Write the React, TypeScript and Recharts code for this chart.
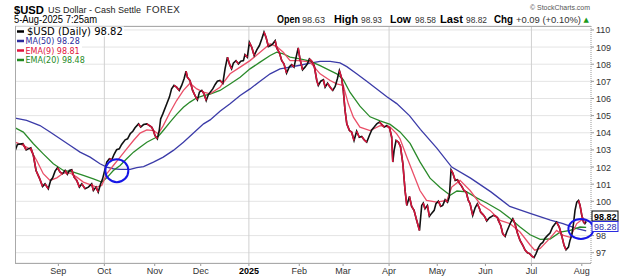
import React from 'react';
import { LineChart, Line, XAxis, YAxis, CartesianGrid, ReferenceLine, ReferenceDot } from 'recharts';

// x = trading-session index (0 = 2 Sep 2024), y = price
const monthTicks = [0, 21, 44, 65, 87, 110, 130, 151, 173, 195, 216, 239];
const monthLabels = ['Sep', 'Oct', 'Nov', 'Dec', '2025', 'Feb', 'Mar', 'Apr', 'May', 'Jun', 'Jul', 'Aug'];
const quarterTicks = [21, 87, 151, 216];
const priceTicks = [97, 98, 99, 100, 101, 102, 103, 104, 105, 106, 107, 108, 109, 110];

const usdPoints = [
  [-19.7,102.97],[-18.7,103.32],[-16.2,103.36],[-14.7,103.0],[-13.7,103.06],[-12.6,103.12],[-11.4,102.67],[-10.2,101.8],[-8.7,101.37],[-7.2,100.87],
  [-6.1,101.02],[-4.6,100.73],[-3.5,101.22],[-2.6,101.37],[-1.5,101.76],[-0.4,101.96],[0.8,101.7],[1.9,101.61],[3.1,101.8],[4.1,101.57],
  [5.0,101.8],[6.1,101.84],[7.2,101.41],[8.4,101.22],[9.6,100.83],[10.7,101.02],[12.2,100.73],[13.7,100.83],[15.2,101.02],[16.0,100.63],
  [17.2,100.83],[18.2,100.54],[19.3,101.02],[20.2,101.31],[22.1,102.29],[23.3,102.48],[24.4,102.42],[25.4,102.73],[26.6,103.01],[27.8,103.06],
  [28.9,103.32],[30.5,103.59],[31.6,103.65],[32.8,103.94],[34.0,104.09],[35.0,104.29],[36.6,104.52],[37.6,104.33],[38.9,104.48],[40.4,104.52],
  [41.6,104.42],[42.6,104.33],[43.4,104.13],[44.1,103.84],[45.2,103.65],[46.1,104.17],[46.7,104.81],[47.7,105.1],[49.5,105.69],[50.7,106.08],
  [51.7,106.56],[52.8,106.76],[54.0,106.66],[55.2,106.47],[56.3,106.76],[57.4,107.15],[58.3,107.59],[58.9,107.24],[60.1,107.05],[61.3,106.47],
  [62.4,106.17],[63.5,105.92],[64.4,106.37],[65.5,106.47],[66.5,106.27],[67.5,105.88],[68.5,106.23],[70.5,106.56],[71.6,106.82],[72.6,107.01],
  [73.8,107.05],[75.1,106.89],[76.1,107.73],[77.2,108.41],[78.1,108.02],[79.1,107.73],[79.9,108.06],[81.1,108.21],[82.2,108.02],[83.3,108.18],
  [84.5,108.21],[85.2,108.56],[86.3,108.41],[87.2,109.28],[88.3,108.99],[89.4,108.51],[90.6,108.84],[91.8,109.09],[92.9,109.48],[93.9,109.87],
  [94.8,109.58],[95.9,109.03],[96.9,109.09],[97.9,109.19],[99.0,109.38],[99.7,108.95],[101.0,108.64],[102.0,108.21],[103.0,108.02],[104.2,107.48],
  [105.5,107.86],[106.5,107.98],[107.6,107.83],[108.5,108.37],[109.5,108.95],[110.3,108.31],[111.5,107.67],[112.6,107.83],[113.7,108.02],[114.6,108.31],
  [115.7,108.18],[116.8,107.92],[118.0,107.05],[118.7,106.76],[119.8,107.01],[121.0,107.09],[121.8,106.66],[122.9,106.89],[124.1,106.66],[125.3,106.47],
  [126.4,106.7],[127.4,107.15],[128.3,107.63],[129.4,107.15],[130.1,106.47],[130.9,105.3],[131.7,104.52],[132.9,104.13],[133.9,104.04],[135.0,103.55],
  [136.2,104.09],[137.4,103.74],[138.5,103.78],[139.6,103.59],[140.8,103.45],[142.0,103.84],[143.1,104.17],[144.2,104.33],[145.4,104.52],[146.6,104.62],
  [147.7,104.48],[148.8,104.33],[150.0,104.42],[151.2,104.29],[152.2,103.74],[152.7,102.29],[153.3,102.97],[154.2,103.55],[155.3,103.45],[156.2,103.2],
  [157.3,102.19],[158.3,100.63],[159.1,99.76],[160.3,100.28],[161.3,99.7],[162.4,99.47],[163.6,98.89],[164.9,98.3],[165.9,99.76],[166.6,99.9],
  [167.4,99.57],[168.5,99.76],[169.4,99.12],[170.5,99.31],[171.6,99.47],[172.4,99.86],[173.5,100.01],[174.6,99.7],[175.5,99.76],[176.6,100.09],
  [177.7,99.95],[178.5,100.25],[179.3,101.84],[180.1,101.65],[181.2,101.22],[182.2,101.26],[183.1,101.06],[184.2,100.87],[185.2,100.63],[186.2,100.54],
  [187.2,100.05],[188.0,99.86],[189.2,99.18],[190.3,99.62],[191.3,99.86],[192.3,99.57],[192.8,99.37],[193.8,99.24],[194.8,99.08],[195.6,98.85],
  [196.8,99.04],[197.4,99.08],[198.6,99.18],[199.8,99.12],[200.5,99.04],[200.9,98.89],[202.0,98.59],[202.9,98.11],[204.0,97.95],[204.7,98.21],
  [205.5,98.46],[206.6,98.79],[207.5,98.98],[208.5,98.69],[209.6,98.15],[210.8,97.72],[212.0,97.45],[213.1,97.15],[214.2,97.0],[215.1,96.95],
  [216.2,96.8],[217.2,96.72],[218.1,96.95],[219.2,97.3],[220.2,97.5],[221.2,97.6],[222.2,97.85],[223.3,98.0],[224.5,98.15],[225.7,98.5],
  [226.8,98.69],[227.5,98.79],[228.7,98.5],[229.8,98.01],[230.9,97.43],[231.8,97.17],[232.9,97.33],[233.6,97.72],[234.4,98.01],[235.2,98.69],
  [235.9,99.47],[236.7,99.95],[237.5,100.05],[238.2,99.76],[239.0,99.18],[239.8,98.79],[240.4,98.7],[241.0,98.82],
];

const ma50Points = [
  [-19.7,104.85],[-14.5,104.72],[-8.4,104.42],[-3.8,104.04],[0.8,103.65],[5.4,103.26],[9.9,102.87],[14.5,102.58],[19.0,102.19],[22.1,102.0],
  [25.1,101.9],[28.2,101.86],[32.8,101.86],[35.8,101.96],[38.9,102.03],[43.4,102.29],[47.9,102.58],[52.5,102.97],[57.1,103.45],[61.7,103.98],
  [66.3,104.52],[69.3,104.75],[73.8,105.26],[78.4,105.69],[83.0,106.17],[87.5,106.56],[92.1,107.01],[96.7,107.44],[101.2,107.73],[105.8,107.83],
  [110.3,107.94],[114.9,108.06],[119.5,108.16],[124.1,108.16],[128.6,108.08],[131.7,107.86],[136.2,107.44],[140.8,107.0],[145.4,106.55],[150.0,106.1],
  [154.5,105.7],[160.3,105.0],[165.3,104.2],[172.8,103.1],[179.6,102.0],[188.2,101.35],[197.5,100.55],[206.1,99.7],[215.4,99.3],[224.7,98.9],
  [230.4,98.7],[236.8,98.4],[241.0,98.28],
];

const ema9Points = [
  [-19.7,103.45],[-16.0,103.26],[-13.0,103.06],[-9.9,102.38],[-6.9,101.61],[-3.8,101.22],[-0.7,101.37],[2.3,101.65],[5.4,101.65],[8.4,101.41],
  [11.4,101.12],[14.5,100.98],[17.5,100.83],[19.8,100.93],[22.1,101.61],[25.1,102.09],[28.2,102.58],[31.2,103.06],[34.3,103.55],[37.3,103.98],
  [40.4,104.17],[43.4,104.13],[45.6,103.94],[47.9,104.42],[51.0,105.2],[54.0,105.88],[57.1,106.47],[60.1,106.89],[63.2,106.56],[66.3,106.37],
  [69.3,106.27],[73.8,106.66],[78.4,107.44],[83.0,107.83],[87.5,108.21],[92.1,108.7],[96.7,109.19],[99.7,109.03],[102.7,108.7],[105.8,108.21],
  [110.3,108.21],[114.9,108.12],[119.5,107.44],[124.1,107.05],[127.1,106.85],[130.1,106.76],[132.4,105.69],[134.7,104.91],[137.7,104.33],[142.3,104.13],
  [146.9,104.42],[151.5,104.33],[154.5,103.94],[156.0,103.65],[159.1,102.58],[162.1,101.61],[165.1,100.63],[168.1,100.05],[172.8,99.95],[177.4,100.05],
  [179.6,100.83],[183.4,101.22],[188.0,100.63],[192.5,99.86],[197.1,99.47],[201.7,98.89],[206.3,98.69],[210.8,98.21],[215.4,97.45],[217.5,97.15],
  [220.0,97.25],[224.5,97.85],[227.5,98.3],[230.6,98.01],[233.7,97.9],[236.7,98.7],[239.8,99.0],[241.0,98.81],
];

const ema20Points = [
  [-19.7,104.29],[-16.0,104.04],[-11.4,103.36],[-6.9,102.77],[-2.3,102.19],[2.3,101.8],[6.9,101.7],[11.4,101.51],[16.0,101.31],[19.8,101.12],
  [22.1,101.37],[25.1,101.8],[28.2,102.09],[31.2,102.48],[34.3,102.87],[37.3,103.16],[40.4,103.45],[43.4,103.65],[45.6,103.78],[47.9,104.13],
  [51.0,104.62],[54.0,105.07],[57.1,105.49],[60.1,105.79],[63.2,106.04],[66.3,106.17],[69.3,106.25],[73.8,106.47],[78.4,106.85],[83.0,107.24],
  [87.5,107.73],[92.1,108.12],[96.7,108.51],[99.7,108.7],[102.7,108.6],[105.8,108.41],[110.3,108.31],[114.9,108.18],[119.5,107.92],[124.1,107.63],
  [127.1,107.44],[130.1,107.1],[133.2,106.35],[137.7,105.55],[142.3,104.93],[146.9,104.69],[151.5,104.49],[156.0,104.05],[160.6,103.38],[165.1,102.3],
  [169.7,101.35],[174.3,100.8],[178.9,100.35],[182.0,100.6],[186.5,100.55],[191.0,100.2],[195.6,99.9],[201.7,99.45],[206.3,99.0],[210.8,98.5],
  [215.4,98.05],[220.0,97.78],[224.5,97.8],[229.1,98.2],[233.7,98.3],[238.2,98.5],[241.0,98.48],
];

// annotation circles [session, price]
const circleMarks = [[26.7, 101.79], [238.6, 98.39]];

const legendItems = ['$USD (Daily) 98.82', 'MA(50) 98.28', 'EMA(9) 98.81', 'EMA(20) 98.48'];
const headerStats = [
  ['Open', '98.63'], ['High', '98.93'], ['Low', '98.58'], ['Last', '98.82'], ['Chg', '+0.09 (+0.10%)'],
];

const W = 624;
const H = 278;
const FONT = '"Liberation Sans", Arial, sans-serif';
const VFONT = '"DejaVu Sans", Verdana, sans-serif';

const toRows = (pts: number[][]) => pts.map(([s, v]) => ({ s, v }));

function buildPriceRows() {
  const rows: any[] = usdPoints.map(([s, v]) => ({ s, v, r0: null, r1: null, r2: null }));
  for (let i = 0; i < usdPoints.length - 1; i++) {
    if (usdPoints[i + 1][1] < usdPoints[i][1]) {
      const k = 'r' + (i % 3);
      rows[i][k] = usdPoints[i][1];
      rows[i + 1][k] = usdPoints[i + 1][1];
    }
  }
  return rows;
}

const MonthTick = (props: any) => {
  const { x, payload } = props;
  const idx = monthTicks.indexOf(payload.value);
  const label = monthLabels[idx];
  const bold = label === '2025';
  return (
    <text x={x} y={274} textAnchor="middle" fontSize={9} fontWeight={bold ? 700 : 400} fill={bold ? '#000' : '#333'} fontFamily={FONT}>
      {label}
    </text>
  );
};

const PriceTick = (props: any) => {
  const { y, payload } = props;
  return (
    <text x={596} y={y + 3.5} fontSize={9} fill="#333" fontFamily={FONT}>
      {payload.value}
    </text>
  );
};

const statX = [[277, 23, 302, 23], [334, 24, 361, 21], [390, 21, 415, 21], [440, 23, 466, 21], [494, 19, 516, 65]];

export default function App() {
  const priceRows = buildPriceRows();
  const ma50Rows = toRows(ma50Points);
  const ema9Rows = toRows(ema9Points);
  const ema20Rows = toRows(ema20Points);
  const legendColors = ['#000000', '#2b2b9c', '#e0143c', '#1f8a1f'];
  const legendY = [31.5, 41, 50.5, 60];

  return (
    <div style={{ position: 'absolute', left: 0, top: 0, width: W, height: H, background: '#fff', fontFamily: FONT }}>
      <LineChart width={W} height={H} margin={{ top: 26, right: 0, bottom: 0, left: 15 }}>
        <CartesianGrid vertical={false} stroke="#e4e4e4" />
        <XAxis
          dataKey="s"
          type="number"
          domain={[-19.8, 243.2]}
          allowDataOverflow
          ticks={monthTicks}
          interval={0}
          height={15}
          axisLine={false}
          tickSize={3}
          tickLine={{ stroke: '#999' }}
          tick={MonthTick}
        />
        <YAxis
          type="number"
          orientation="right"
          domain={[96.4, 110.23]}
          allowDataOverflow
          ticks={priceTicks}
          interval={0}
          width={33}
          tickSize={3}
          axisLine={{ stroke: '#999', strokeDasharray: '1 1' }}
          tickLine={{ stroke: '#999' }}
          tick={PriceTick}
        />
        {quarterTicks.map((q) => (
          <ReferenceLine key={q} x={q} stroke="#d0d0d0" strokeWidth={1} />
        ))}
        <Line data={ma50Rows} dataKey="v" type="linear" stroke="#3b3ba8" strokeWidth={1.3} dot={false} isAnimationActive={false} />
        <Line data={ema20Rows} dataKey="v" type="linear" stroke="#2a8a2a" strokeWidth={1.3} dot={false} isAnimationActive={false} />
        <Line data={ema9Rows} dataKey="v" type="linear" stroke="#ea4f68" strokeWidth={1.3} dot={false} isAnimationActive={false} />
        <Line data={priceRows} dataKey="v" type="linear" stroke="#111" strokeWidth={1.6} dot={false} isAnimationActive={false} />
        <Line data={priceRows} dataKey="r0" type="linear" stroke="#d8143c" strokeWidth={1.6} dot={false} isAnimationActive={false} />
        <Line data={priceRows} dataKey="r1" type="linear" stroke="#d8143c" strokeWidth={1.6} dot={false} isAnimationActive={false} />
        <Line data={priceRows} dataKey="r2" type="linear" stroke="#d8143c" strokeWidth={1.6} dot={false} isAnimationActive={false} />
        {circleMarks.map(([s, v], i) => (
          <ReferenceDot
            key={i}
            x={s}
            y={v}
            r={11}
            shape={(p: any) => (
              <ellipse cx={p.cx} cy={p.cy} rx={i === 0 ? 11.5 : 12.5} ry={i === 0 ? 11.5 : 10} fill="none" stroke="#1616e6" strokeWidth={2} />
            )}
          />
        ))}
      </LineChart>

      <svg style={{ position: 'absolute', left: 0, top: 0 }} width={W} height={H}>
        {/* plot frame (left, top, bottom) */}
        <line x1={15.5} y1={26} x2={15.5} y2={263.5} stroke="#aaa" />
        <line x1={15} y1={26.5} x2={591} y2={26.5} stroke="#aaa" />
        <line x1={15} y1={263.5} x2={591} y2={263.5} stroke="#aaa" />

        {/* header */}
        <text x={14} y={13.5} fontSize={11.5} fontWeight={700} fontFamily={FONT} textLength={30} lengthAdjust="spacingAndGlyphs">$USD</text>
        <text x={48} y={13} fontSize={9.3} fill="#222" fontFamily={FONT} textLength={93} lengthAdjust="spacingAndGlyphs">US Dollar - Cash Settle</text>
        <text x={146} y={13} fontSize={8.5} fill="#333" fontFamily={VFONT} textLength={34} lengthAdjust="spacingAndGlyphs">FOREX</text>
        <text x={14} y={23} fontSize={10} fill="#000" fontFamily={FONT} textLength={83} lengthAdjust="spacingAndGlyphs">5-Aug-2025 7:25am</text>
        <text x={530} y={9.5} fontSize={8} fill="#555" fontFamily={FONT} textLength={60} lengthAdjust="spacingAndGlyphs">© StockCharts.com</text>
        {headerStats.map(([label, val], i) => (
          <g key={label}>
            <text x={statX[i][0]} y={23} fontSize={10} fontWeight={700} fontFamily={FONT} textLength={statX[i][1]} lengthAdjust="spacingAndGlyphs">{label}</text>
            <text x={statX[i][2]} y={23} fontSize={9} fill="#333" fontFamily={FONT} textLength={statX[i][3]} lengthAdjust="spacingAndGlyphs">{val}</text>
          </g>
        ))}
        <text x={583.5} y={22} fontSize={7} fill="#1a9a1a" fontFamily={VFONT}>▲</text>

        {/* legend */}
        {legendItems.map((t, i) => (
          <g key={t}>
            <rect x={16} y={legendY[i] - 5} width={i === 0 ? 108 : 66} height={10} fill="#fff" />
            <line x1={17} y1={legendY[i]} x2={24} y2={legendY[i]} stroke={legendColors[i]} strokeWidth={2.5} />
            <text
              x={i === 0 ? 27 : 25.5}
              y={legendY[i] + (i === 0 ? 3.6 : 3)}
              fontSize={i === 0 ? 10 : 8}
              fill={legendColors[i]}
              fontFamily={VFONT}
            >
              {t}
            </text>
          </g>
        ))}

        {/* last value boxes */}
        <rect x={592} y={211} width={26} height={10} fill="#fff" stroke="#000" strokeWidth={1} />
        <text x={594} y={219.5} fontSize={9} fontWeight={700} fill="#000" fontFamily={FONT}>98.82</text>
        <rect x={592} y={221.5} width={26} height={10} fill="#fff" stroke="#2b2be0" strokeWidth={1} />
        <text x={594} y={230} fontSize={9} fill="#2b2bb0" fontFamily={FONT}>98.28</text>
      </svg>
    </div>
  );
}
